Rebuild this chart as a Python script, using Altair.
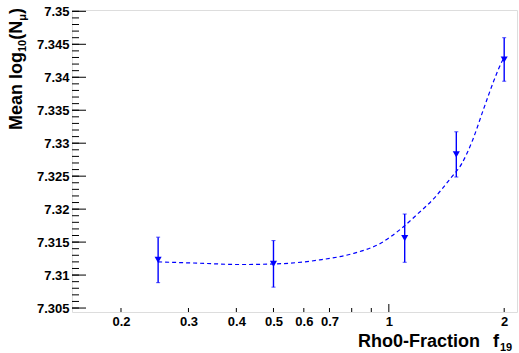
import altair as alt
import pandas as pd

# ---- data ----
pt_x = [0.25, 0.5, 1.1, 1.5, 2.0]
pt_y = [7.3123, 7.3117, 7.3156, 7.3283, 7.3427]
pt_err = [0.00345, 0.00353, 0.00366, 0.00343, 0.0033]

fit_x = [0.25, 0.32, 0.41, 0.51, 0.66, 0.81, 0.95, 1.08, 1.18, 1.31, 1.45, 1.55,
         1.65, 1.77, 1.88, 1.97, 2.0]
fit_y = [7.3120, 7.3118, 7.3116, 7.3117, 7.3123, 7.3133, 7.3148, 7.3171, 7.3191,
         7.3216, 7.3247, 7.3269, 7.3303, 7.3353, 7.3395, 7.3423, 7.3430]

y_major = [7.305, 7.31, 7.315, 7.32, 7.325, 7.33, 7.335, 7.34, 7.345, 7.35]
y_minor = [round(7.305 + 0.001 * i, 3) for i in range(46)]
x_labels = [0.2, 0.3, 0.4, 0.5, 0.6, 0.7, 1, 2]
x_minor = [0.2, 0.3, 0.4, 0.5, 0.6, 0.7, 0.8, 0.9, 2]
x_major = [1]

pts = pd.DataFrame({"x": pt_x, "y": pt_y, "err": pt_err})
pts["lo"] = pts["y"] - pts["err"]
pts["hi"] = pts["y"] + pts["err"]
fit = pd.DataFrame({"x": fit_x, "y": fit_y})

W, H = 445, 302
FONT = "Liberation Sans"
BLUE = "#0000ff"

xscale = alt.Scale(type="log", domain=[0.149, 2.16], nice=False)
yscale = alt.Scale(domain=[7.3044, 7.3502], nice=False, zero=False)
xaxis = alt.Axis(values=x_labels, format="~g", ticks=False, domain=False, grid=False,
                 labelFont=FONT, labelFontWeight="bold", labelFontSize=13,
                 labelColor="black", labelPadding=3, title=None, labelFlush=False)
yaxis = alt.Axis(values=y_major, format=".3~f", ticks=False, domain=False, grid=False,
                 labelFont=FONT, labelFontWeight="bold", labelFontSize=13,
                 labelColor="black", labelPadding=3, title=None)


def X(f):
    return alt.X(f, type="quantitative", scale=xscale, axis=xaxis)


def Y(f):
    return alt.Y(f, type="quantitative", scale=yscale, axis=yaxis)


curve = alt.Chart(fit).mark_line(color=BLUE, strokeWidth=1.2, strokeDash=[4, 3],
                                 interpolate="monotone").encode(x=X("x"), y=Y("y"))

bars = alt.Chart(pts).mark_rule(color=BLUE, strokeWidth=1.4).encode(
    x=X("x"), y=Y("lo"), y2="hi")
cap_lo = alt.Chart(pts).mark_tick(color=BLUE, orient="horizontal", size=4,
                                  thickness=1).encode(x=X("x"), y=Y("lo"))
cap_hi = alt.Chart(pts).mark_tick(color=BLUE, orient="horizontal", size=4,
                                  thickness=1).encode(x=X("x"), y=Y("hi"))
markers = alt.Chart(pts).mark_point(shape="triangle-down", filled=True, color=BLUE,
                                    size=50, opacity=1).encode(x=X("x"), y=Y("y"))

# ticks drawn inside the frame
ymaj_df = pd.DataFrame({"v": y_major})
ymin_df = pd.DataFrame({"v": y_minor})
xmaj_df = pd.DataFrame({"v": x_major})
xmin_df = pd.DataFrame({"v": x_minor})

ytick_major = alt.Chart(ymaj_df).mark_rule(color="black", strokeWidth=1).encode(
    y=Y("v"), x=alt.value(0), x2=alt.value(14))
ytick_minor = alt.Chart(ymin_df).mark_rule(color="black", strokeWidth=1).encode(
    y=Y("v"), x=alt.value(0), x2=alt.value(7))
xtick_major = alt.Chart(xmaj_df).mark_rule(color="black", strokeWidth=1).encode(
    x=X("v"), y=alt.value(H), y2=alt.value(H - 8))
xtick_minor = alt.Chart(xmin_df).mark_rule(color="black", strokeWidth=1).encode(
    x=X("v"), y=alt.value(H), y2=alt.value(H - 4))

one = pd.DataFrame({"k": [0]})


def txt(s, x, y, size, angle=0, align="left"):
    return alt.Chart(one).mark_text(text=s, font=FONT, fontWeight="bold", fontSize=size,
                                    angle=angle, align=align, baseline="alphabetic",
                                    color="black").encode(x=alt.value(x), y=alt.value(y))


ytitle = [
    txt("Mean log", -50, 120, 18, angle=270),
    txt("10", -46, 42, 11, angle=270),
    txt("(N", -50, 29.8, 18, angle=270),
    txt("μ", -46, 10.8, 11, angle=270),
    txt(")", -50, 4.1, 18, angle=270),
]
xtitle = [
    txt("Rho0-Fraction", 408, 337, 18, align="right"),
    txt("f", 421, 337, 18),
    txt("19", 428, 340.5, 11),
]

chart = alt.layer(
    ytick_minor, ytick_major, xtick_minor, xtick_major,
    curve, bars, cap_lo, cap_hi, markers, *ytitle, *xtitle
).properties(
    width=W, height=H,
    padding={"left": 72, "top": 10, "right": 2, "bottom": 41},
    autosize=alt.AutoSizeParams(type="none"),
).configure_view(stroke="black", strokeWidth=1.5).configure(background="white")

chart.save("out.html", embed_options={"renderer": "svg", "actions": False})
